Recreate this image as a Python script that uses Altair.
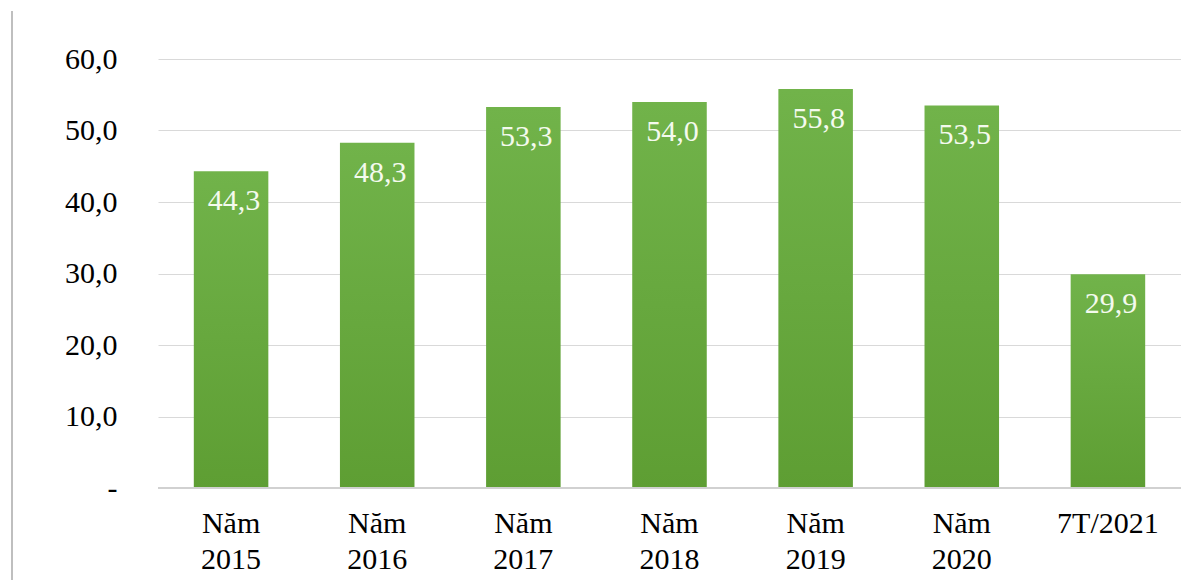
import altair as alt
import pandas as pd

categories = ["Năm 2015", "Năm 2016", "Năm 2017", "Năm 2018", "Năm 2019", "Năm 2020", "7T/2021"]
values = [44.3, 48.3, 53.3, 54.0, 55.8, 53.5, 29.9]
labels = ["44,3", "48,3", "53,3", "54,0", "55,8", "53,5", "29,9"]

df = pd.DataFrame({"cat": categories, "val": values, "lab": labels})

FONT = "Liberation Serif, Times New Roman, serif"

x_enc = alt.X(
    "cat:N", sort=categories, title=None,
    scale=alt.Scale(paddingInner=0.49, paddingOuter=0.245),
    axis=alt.Axis(
        labelExpr="datum.label == '7T/2021' ? datum.label : split(datum.label, ' ')",
        labelFont=FONT, labelFontSize=30, labelColor="#000000", labelAngle=0,
        labelPadding=20, labelLineHeight=36, ticks=False, domain=False, grid=False,
    ),
)
y_enc = alt.Y(
    "val:Q", title=None,
    scale=alt.Scale(domain=[0, 60], nice=False),
    axis=alt.Axis(
        values=[0, 10, 20, 30, 40, 50, 60],
        labelExpr="datum.value == 0 ? '-\u00a0\u00a0\u00a0' : replace(format(datum.value, '.1f'), '.', ',')",
        labelFont=FONT, labelFontSize=30, labelColor="#000000",
        labelPadding=41, ticks=False, domain=False,
        grid=True, gridColor="#D9D9D9", gridWidth=1,
    ),
)

grad = alt.Gradient(
    gradient="linear",
    stops=[alt.GradientStop(color="#71B34A", offset=0), alt.GradientStop(color="#5E9E33", offset=1)],
    x1=0, x2=0, y1=0, y2=1,
)

bars = alt.Chart(df).mark_bar(color=grad).encode(x=x_enc, y=y_enc)

text = alt.Chart(df).mark_text(
    font=FONT, fontSize=30, color="#F4FAEE", baseline="middle", dy=30, dx=3
).encode(
    x=alt.X("cat:N", sort=categories),
    y=alt.Y("val:Q"),
    text="lab:N",
)

zero = alt.Chart(df).mark_rule(color="#D0D0D0", strokeWidth=1.5).encode(
    x=alt.value(0), x2=alt.value(1023), y=alt.value(429)
)

frame = alt.Chart(df).mark_rule(color="#BFBFBF", strokeWidth=1.5).encode(
    x=alt.value(-146), y=alt.value(-48), y2=alt.value(521)
)

chart = alt.layer(bars, zero, text, frame).properties(
    width=1023, height=429,
    background="#FFFFFF",
    autosize=alt.AutoSizeParams(type="none"),
    padding={"left": 158, "top": 59, "right": 0, "bottom": 92},
).configure_view(stroke=None).configure(
    font=FONT
).configure_view(stroke=None).configure_axis(
    labelFont=FONT, labelFontSize=30, labelColor="#000000"
).configure_text(font=FONT)

chart.save("out.html", embed_options={"renderer": "svg", "actions": False})
